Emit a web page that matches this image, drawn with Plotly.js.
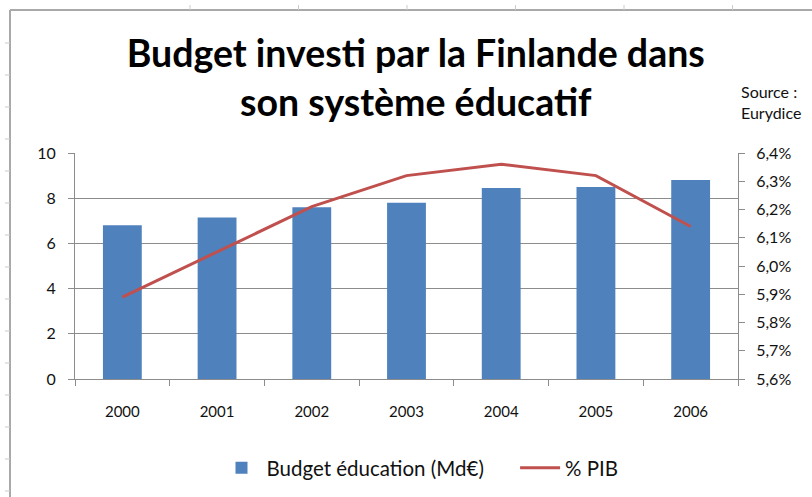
<!DOCTYPE html>
<html>
<head>
<meta charset="utf-8">
<script src="https://cdn.plot.ly/plotly-3.0.1.min.js"></script>
<style>html,body{margin:0;padding:0;background:#fff;}#chart{width:812px;height:497px;}</style>
</head>
<body>
<div id="chart"></div>
<script>
const years = ['2000', '2001', '2002', '2003', '2004', '2005', '2006'];
const budget = [6.8, 7.15, 7.6, 7.8, 8.45, 8.5, 8.8];
const pib = [5.89, 6.05, 6.21, 6.32, 6.36, 6.32, 6.14];
const budgetName = 'Budget éducation (Md€)';
const pibName = '% PIB';
const titleText = 'Budget investi par la Finlande dans<br>son système éducatif';
const sourceText = 'Source :<br>Eurydice';

const FONT = 'Lato, "Open Sans", sans-serif';
const W = 812, H = 497;
const M = {l: 75, r: 74, t: 153, b: 118};
const pw = W - M.l - M.r, ph = H - M.t - M.b;
const px = x => (x - M.l) / pw;
const py = y => (H - M.b - y) / ph;

const shapes = [];
const border = '#a9a9a9';
shapes.push({type: 'line', xref: 'paper', yref: 'paper', x0: px(10), x1: px(812), y0: py(10), y1: py(10), line: {color: border, width: 2}});
shapes.push({type: 'line', xref: 'paper', yref: 'paper', x0: px(10), x1: px(10), y0: py(10), y1: py(497), line: {color: border, width: 2}});
for (let y = 43; y < 497; y += 32) {
  shapes.push({type: 'line', xref: 'paper', yref: 'paper', x0: px(5), x1: px(10), y0: py(y), y1: py(y), line: {color: '#cccccc', width: 1}});
}
for (let x = 190; x < 812; x += 108.5) {
  shapes.push({type: 'line', xref: 'paper', yref: 'paper', x0: px(x), x1: px(x), y0: py(5), y1: py(10), line: {color: '#cccccc', width: 1}});
}

const data = [
  {type: 'bar', x: years, y: budget, name: budgetName + '\u00a0\u00a0\u00a0\u00a0\u00a0', marker: {color: '#4f81bd'}, yaxis: 'y', hoverinfo: 'skip'},
  {type: 'scatter', mode: 'lines', x: years, y: pib, name: pibName, line: {color: '#c0504d', width: 3}, yaxis: 'y2', hoverinfo: 'skip'}
];

const layout = {
  width: W, height: H,
  margin: M,
  paper_bgcolor: '#ffffff', plot_bgcolor: '#ffffff',
  separators: ', ',
  font: {family: FONT, color: '#111111', size: 15},
  bargap: 0.59,
  title: {
    text: titleText,
    font: {family: FONT, size: 37.5, color: '#000000', weight: 700},
    x: 0.512, xref: 'container', xanchor: 'center',
    y: 1 - 67 / H, yref: 'container', yanchor: 'top'
  },
  xaxis: {
    type: 'category',
    showline: true, linecolor: '#8c8c8c', linewidth: 1,
    ticks: 'outside', tickson: 'boundaries', ticklen: 6, tickcolor: '#8c8c8c',
    showgrid: false, zeroline: false,
    tickfont: {family: FONT, size: 15, color: '#111111'},
    ticklabelstandoff: 19
  },
  yaxis: {
    range: [0, 10], dtick: 2,
    showline: true, linecolor: '#8c8c8c', linewidth: 1,
    ticks: 'outside', ticklen: 6, tickcolor: '#8c8c8c',
    showgrid: true, gridcolor: '#8c8c8c', gridwidth: 1,
    zeroline: false,
    tickfont: {family: FONT, size: 16, color: '#111111'},
    ticklabelstandoff: 9
  },
  yaxis2: {
    overlaying: 'y', side: 'right',
    range: [5.6, 6.4], dtick: 0.1, tickformat: '.1f', ticksuffix: '%',
    showline: true, linecolor: '#8c8c8c', linewidth: 1,
    ticks: 'outside', ticklen: 6, tickcolor: '#8c8c8c',
    showgrid: false, zeroline: false,
    tickfont: {family: FONT, size: 16, color: '#111111'},
    ticklabelstandoff: 8
  },
  showlegend: true,
  legend: {
    orientation: 'h', x: 0.5 + 14 / W, xref: 'container', xanchor: 'center',
    y: 1 - 468 / H, yref: 'container', yanchor: 'middle',
    font: {family: FONT, size: 20.5, color: '#111111'},
    itemwidth: 40, traceorder: 'normal'
  },
  annotations: [{
    text: sourceText, showarrow: false, align: 'left',
    xref: 'paper', yref: 'paper', x: px(739), y: py(80), xanchor: 'left', yanchor: 'top',
    font: {family: FONT, size: 16, color: '#111111'}
  }],
  shapes: shapes
};

Plotly.newPlot('chart', data, layout, {displayModeBar: false, staticPlot: true});
</script>
</body>
</html>
